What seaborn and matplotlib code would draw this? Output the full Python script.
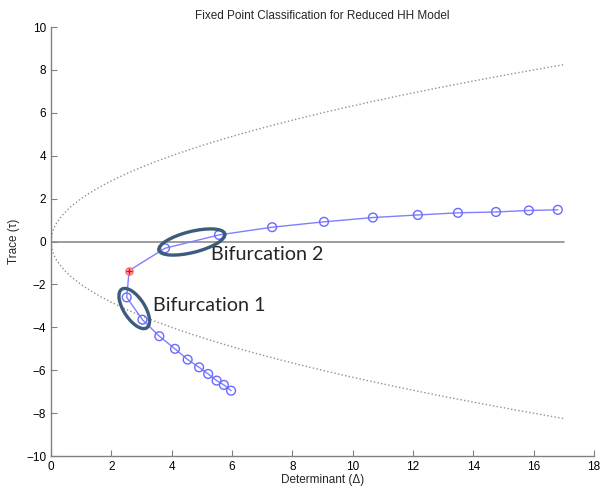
import numpy as np
import pandas as pd
import seaborn as sns
import matplotlib
matplotlib.use("Agg")
import matplotlib.pyplot as plt
from matplotlib.patches import Ellipse
from matplotlib.transforms import IdentityTransform

# Fixed points of the reduced HH model in the (determinant, trace) plane
det_stable = [5.97, 5.73, 5.49, 5.21, 4.91, 4.53, 4.11, 3.59, 3.03, 2.51]
trace_stable = [-6.95, -6.68, -6.48, -6.17, -5.86, -5.50, -5.00, -4.41, -3.64, -2.60]
det_hopf = [2.59]
trace_hopf = [-1.35]
det_unstable = [3.78, 5.57, 7.33, 9.05, 10.67, 12.16, 13.49, 14.75, 15.84, 16.80]
trace_unstable = [-0.31, 0.31, 0.67, 0.92, 1.12, 1.24, 1.34, 1.38, 1.45, 1.48]

x_ticks = [0, 2, 4, 6, 8, 10, 12, 14, 16, 18]
y_ticks = [-10, -8, -6, -4, -2, 0, 2, 4, 6, 8, 10]
det_max = 17.0

sns.set_style("ticks")
plt.rcParams["font.family"] = ["Liberation Sans", "DejaVu Sans"]

fig = plt.figure(figsize=(6.0, 4.91), dpi=100)
ax = fig.add_axes([0.085, 0.071, 0.905, 0.874])

# tau^2 = 4*Delta boundary (nodes vs spirals)
d = np.linspace(0, det_max, 400)
bound = pd.DataFrame({"det": np.concatenate([d, d]),
                      "trace": np.concatenate([2 * np.sqrt(d), -2 * np.sqrt(d)]),
                      "side": ["upper"] * len(d) + ["lower"] * len(d)})
sns.lineplot(data=bound, x="det", y="trace", units="side", estimator=None,
             color="#909090", linestyle=":", linewidth=1.0, ax=ax, sort=False)

# trace = 0 axis
sns.lineplot(x=[0, det_max], y=[0, 0], color="#8c8c8c", linewidth=1.2, ax=ax)

# Fixed point path
path = pd.DataFrame({"det": det_stable + det_hopf + det_unstable,
                     "trace": trace_stable + trace_hopf + trace_unstable})
sns.lineplot(data=path, x="det", y="trace", sort=False, estimator=None,
             color="#7f7fff", linewidth=1.0, ax=ax)
circ = pd.DataFrame({"det": det_stable + det_unstable,
                     "trace": trace_stable + trace_unstable})
sns.scatterplot(data=circ, x="det", y="trace", marker="o", s=40,
                facecolor="none", edgecolor="#6a6aff", linewidth=1.0, ax=ax, zorder=3)
sns.scatterplot(x=det_hopf, y=trace_hopf, marker="o", s=28,
                facecolor="#ffb0b0", edgecolor="#ff6060", linewidth=0.8, ax=ax, zorder=4)
sns.scatterplot(x=det_hopf, y=trace_hopf, marker="+", s=16,
                color="red", linewidth=1.0, ax=ax, zorder=5)

ax.set_xlim(0, 18)
ax.set_ylim(-10, 10)
ax.set_xticks(x_ticks)
ax.set_yticks(y_ticks)
ax.set_xlabel("Determinant (\u0394)", fontsize=8.5, labelpad=1)
ax.set_ylabel("Trace (\u03c4)", fontsize=8.5, labelpad=4)
ax.set_title("Fixed Point Classification for Reduced HH Model", fontsize=8.5, pad=6)
ax.tick_params(direction="in", length=4, width=0.8, colors="#808080",
               labelcolor="black", labelsize=8.5)
for side in ("top", "right"):
    ax.spines[side].set_visible(False)
for side in ("left", "bottom"):
    ax.spines[side].set_color("#808080")
    ax.spines[side].set_linewidth(1.0)

# Bifurcation highlights, drawn in pixel space so they stay true ellipses
fig.canvas.draw()
def ring(dx, ty, w, h, ang):
    cx, cy = ax.transData.transform((dx, ty))
    e = Ellipse((cx, cy), w, h, angle=ang, transform=IdentityTransform(),
                fill=False, edgecolor="#3d5c7c", linewidth=2.4, zorder=6)
    fig.add_artist(e)

ring(2.76, -3.12, 46, 21, -57)
ring(4.67, -0.02, 68, 21, 14)

ax.text(5.3, -0.62, "Bifurcation 2", fontsize=14.2, family=["Lato", "DejaVu Sans"],
        ha="left", va="center")
ax.text(3.37, -2.98, "Bifurcation 1", fontsize=14.2, family=["Lato", "DejaVu Sans"],
        ha="left", va="center")

fig.savefig("out.png", dpi=100)
